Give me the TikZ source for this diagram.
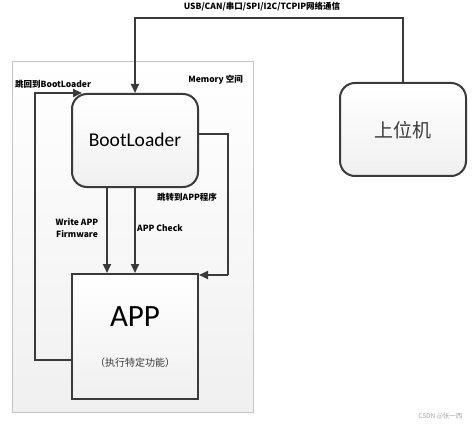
\documentclass[tikz,border=0pt]{standalone}
\usepackage{fontspec}
\setmainfont{Carlito}
\newfontfamily\cjk{Noto Sans CJK SC}
\usetikzlibrary{arrows.meta,positioning}
\definecolor{BLInk}{HTML}{3A3A3A}
\definecolor{BLEdge}{HTML}{C4C4C4}
\definecolor{BLPale}{HTML}{F0F0F0}

\begin{document}
\begin{tikzpicture}[x=1pt,y=-1pt,
    block/.style={draw=BLInk,line width=2pt,top color=white,bottom color=BLPale,
      minimum width=126pt,inner sep=0pt},
    link/.style={draw=BLInk,line width=2pt,-{Triangle[length=9pt,width=8pt]}},
    wire/.style={draw=BLInk,line width=2pt},
    tag/.style={font=\cjk\bfseries\fontsize{8.5}{10}\selectfont,inner sep=0pt,text=black}
  ]
  \useasboundingbox (0,0) rectangle (474,425);
  % memory region
  \node[draw=BLEdge,line width=0.8pt,top color=white,bottom color=BLPale,
    minimum width=241pt,minimum height=351pt,inner sep=0pt] (mem) at (132.5,236.5) {};
  \node[tag,anchor=east] (memlbl) at (243,80) {Memory 空间};
  % blocks
  \node[block,rounded corners=15pt,minimum height=93pt] (boot) at (135,140.5) {};
  \node[font=\fontsize{19.5}{22}\selectfont,text=black] (bootlbl) at (135,140) {BootLoader};
  \node[block,minimum height=125pt] (app) at (135,336.5) {};
  \node[font=\fontsize{31}{34}\selectfont,text=black] (applbl) at (135,317) {APP};
  \node[font=\cjk\fontsize{10}{12}\selectfont,text=BLInk] (appsub) at (135,363) {（执行特定功能）};
  \node[block,rounded corners=15pt,minimum height=93pt] (host) at (403,129.5) {};
  \node[font=\cjk\fontsize{19}{22}\selectfont,text=BLInk] (hostlbl) at (403,130) {上位机};
  % bend points
  \coordinate (bus) at (135,18);
  \coordinate (back) at (35,360);
  \coordinate (jump) at (228,134);
  \coordinate (jumpend) at (228,275);
  % connectors
  \draw[link] (host.north) |- (bus) -- (boot.north);
  \draw[link] (back -| app.west) -- (back) |- ([xshift=11pt]boot.north west);
  \draw[wire] (jump -| boot.east) -- (jump) -- (jumpend);
  \draw[link] (jumpend) -- (jumpend -| app.east);
  \draw[link] (boot.south -| 107,0) -- (app.north -| 107,0);
  \draw[link] (boot.south) -- (app.north);
  % labels
  \node[tag] (buslbl) at (262,7) {USB/CAN/串口/SPI/I2C/TCPIP网络通信};
  \node[tag,anchor=west] (backlbl) at (15,84) {跳回到BootLoader};
  \node[tag,anchor=west] (jumplbl) at (157,197) {跳转到APP程序};
  \node[tag,align=center] (writelbl) at (77,228) {Write APP\\[2pt]Firmware};
  \node[tag,anchor=west] (checklbl) at (137,228) {APP Check};
  \node[font=\cjk\fontsize{6.5}{8}\selectfont,text=black!35,anchor=east] (mark) at (466,416) {CSDN @张一西};
\end{tikzpicture}
\end{document}
